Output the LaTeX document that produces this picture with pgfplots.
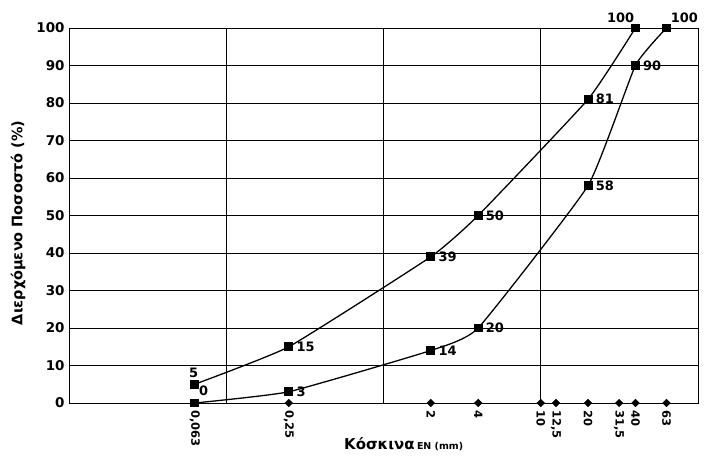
\documentclass[border=0pt]{standalone}
\usepackage{pgfplots}
\pgfplotsset{compat=1.18}
\usepackage{fontspec}
\setmainfont{DejaVu Sans}
\begin{document}
\begin{tikzpicture}[x=1bp,y=1bp]
\path[use as bounding box] (0,0) rectangle (705,457);
\begin{axis}[
  at={(69bp,54bp)}, anchor=south west,
  scale only axis, width=629bp, height=375bp,
  xmode=log, xmin=0.01, xmax=100,
  ymin=0, ymax=100,
  ytick={0,10,...,100},
  ymajorgrids, major grid style={black, line width=0.7pt},
  axis line style={black, line width=0.9pt},
  y tick style={draw=none},
  x tick style={draw=none},
  xtick={0.063,0.25,2,4,10,12.5,20,31.5,40,63},
  xticklabels={{0,063},{0,25},2,4,10,{12,5},20,{31,5},40,63},
  extra x ticks={0.1,1,10},
  extra x tick labels={},
  extra x tick style={grid=major, tick style={draw=none}},
  xticklabel shift=4bp,
  xticklabel style={rotate=-90, anchor=west, font=\bfseries\fontsize{11.5}{12}\selectfont},
  yticklabel style={font=\bfseries\fontsize{13.5}{14}\selectfont, xshift=-1bp},
  /pgf/number format/assume math mode=true,
  clip=false,
  ylabel={\bfseries Διερχόμενο Ποσοστό (\%)},
  ylabel style={font=\bfseries\fontsize{14.5}{15}\selectfont, at={(axis description cs:-0.081,0.48)}, anchor=center},
]
\addplot[only marks, mark=square*, mark size=2.7bp, mark options={rotate=45}, black]
  coordinates {(0.063,0) (0.25,0) (2,0) (4,0) (10,0) (12.5,0) (20,0) (31.5,0) (40,0) (63,0)};
\addplot[black, line width=1.3pt, smooth, tension=0.25, mark=square*, mark size=3.8bp, mark options={solid}]
  coordinates {(0.063,5) (0.25,15) (2,39) (4,50) (20,81) (40,100)};
\addplot[black, line width=1.3pt, smooth, tension=0.25, mark=square*, mark size=3.8bp]
  coordinates {(0.063,0) (0.25,3) (2,14) (4,20) (20,58) (40,90) (63,100)};
\begin{scope}[every node/.style={font=\bfseries\fontsize{13}{14}\selectfont, inner sep=1pt}]
\node[anchor=south] at (axis cs:0.062,6.3) {5};
\node[anchor=west] at (axis cs:0.066,3.2) {0};
\node[anchor=west] at (axis cs:0.275,15) {15};
\node[anchor=west] at (axis cs:0.275,3) {3};
\node[anchor=west] at (axis cs:2.2,39) {39};
\node[anchor=west] at (axis cs:2.2,14) {14};
\node[anchor=west] at (axis cs:4.4,50) {50};
\node[anchor=west] at (axis cs:4.4,20) {20};
\node[anchor=west] at (axis cs:22,81) {81};
\node[anchor=west] at (axis cs:22,58) {58};
\node[anchor=west] at (axis cs:44,90) {90};
\node[anchor=south east] at (axis cs:40,101) {100};
\node[anchor=south west] at (axis cs:66,101.2) {100};
\end{scope}
\node[anchor=base] at (axis description cs:0.532,-0.125) {\bfseries\fontsize{15}{16}\selectfont Κόσκινα\,{\fontsize{9.5}{10}\selectfont EN (mm)}};
\end{axis}
\end{tikzpicture}
\end{document}
